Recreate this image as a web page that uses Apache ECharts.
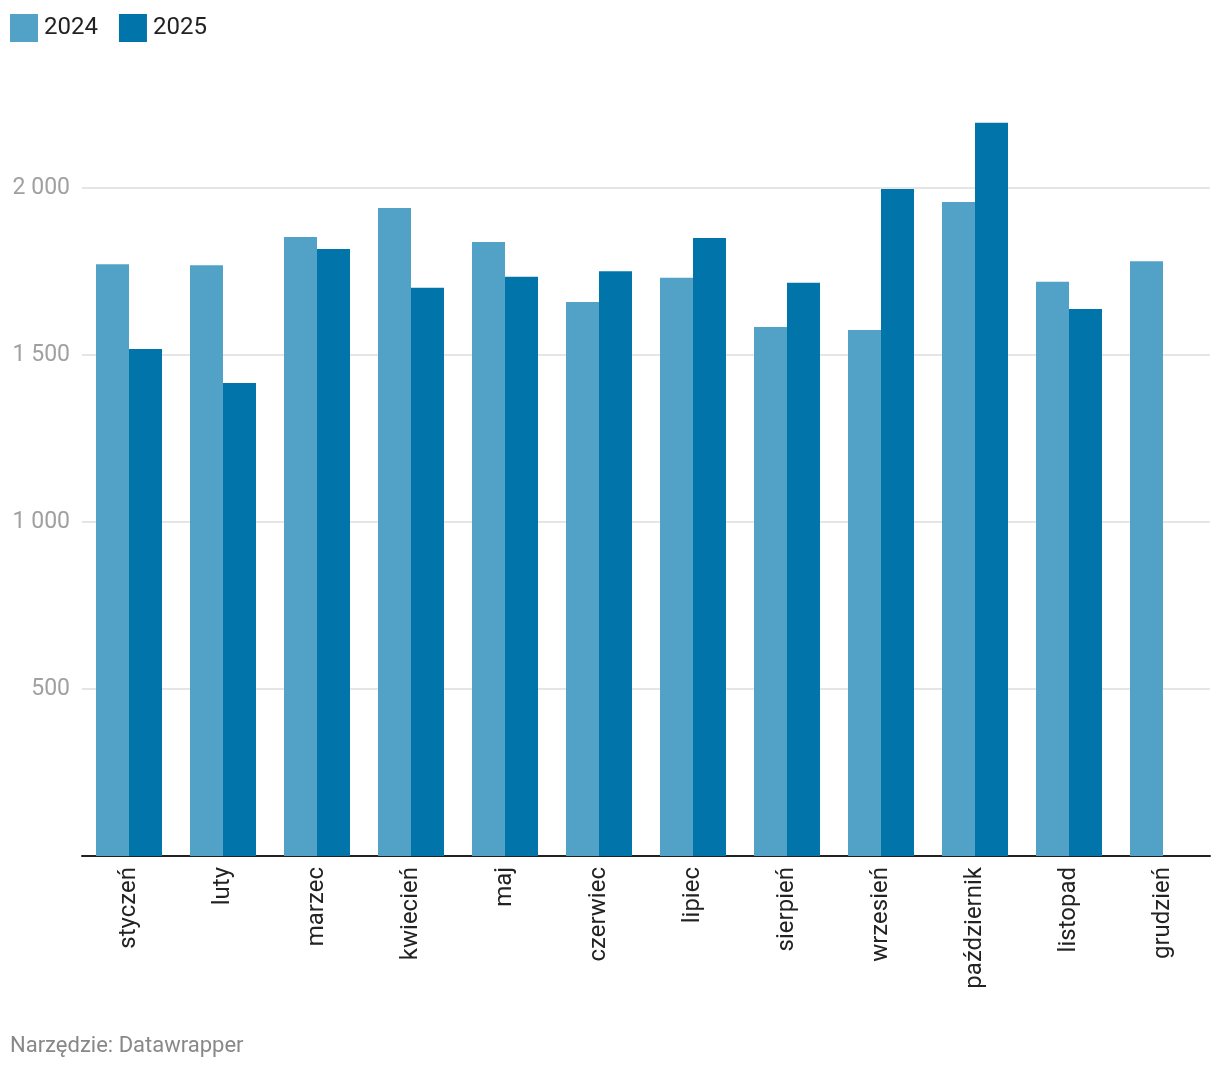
<!DOCTYPE html>
<html>
<head>
<meta charset="utf-8">
<script src="https://cdn.jsdelivr.net/npm/echarts@6/dist/echarts.min.js"></script>
<style>
html,body{margin:0;padding:0;background:#fff;}
#chart{width:1220px;height:1072px;}
</style>
</head>
<body>
<div id="chart"></div>
<script>
const categories = ['styczeń','luty','marzec','kwiecień','maj','czerwiec','lipiec','sierpień','wrzesień','październik','listopad','grudzień'];
const values2024 = [1772, 1769, 1853, 1940, 1838, 1659, 1731, 1584, 1575, 1958, 1719, 1781];
const values2025 = [1518, 1416, 1817, 1701, 1734, 1751, 1850, 1716, 1997, 2195, 1638, null];
const yTicks = [0, 500, 1000, 1500, 2000];

const chart = echarts.init(document.getElementById('chart'));
const fmt = v => String(v).replace(/\B(?=(\d{3})+(?!\d))/g, ' ');
chart.setOption({
  animation: false,
  textStyle: { fontFamily: 'Roboto' },
  legend: {
    left: 10, top: 14, padding: 0, itemWidth: 28, itemHeight: 28, itemGap: 21,
    icon: 'rect',
    textStyle: { fontSize: 24, color: '#222', fontFamily: 'Roboto', padding: [0,0,0,1] },
    data: ['2024', '2025']
  },
  graphic: [{
    type: 'text', left: 10, top: 1035,
    style: { text: 'Narzędzie: Datawrapper', fill: '#888', fontSize: 22, fontFamily: 'Roboto' }
  }],
  grid: { left: 82, right: 10, top: 121.2, bottom: 216, containLabel: false },
  xAxis: {
    type: 'category', data: categories,
    axisLine: { lineStyle: { color: '#222', width: 2 } },
    axisTick: { show: false },
    axisLabel: { rotate: 90, fontSize: 24, color: '#222', margin: 11, fontFamily: 'Roboto' }
  },
  yAxis: {
    type: 'value', min: 0, max: 2200, interval: 500,
    axisLine: { show: false }, axisTick: { show: false },
    axisLabel: {
      showMaxLabel: false, showMinLabel: false, fontSize: 23, color: '#a0a0a0', margin: 12,
      fontFamily: 'Roboto',
      formatter: v => (yTicks.indexOf(v) >= 0 && v !== 0) ? fmt(v) : ''
    },
    splitLine: { showMaxLine: false, showMinLine: false, lineStyle: { color: '#e5e5e5', width: 2 } }
  },
  series: [
    { name: '2024', type: 'bar', data: values2024, barGap: '0%', barCategoryGap: '29.8%',
      itemStyle: { color: '#52a1c7' } },
    { name: '2025', type: 'bar', data: values2025, barGap: '0%', barCategoryGap: '29.8%',
      itemStyle: { color: '#0174aa' } }
  ]
});
</script>
</body>
</html>
